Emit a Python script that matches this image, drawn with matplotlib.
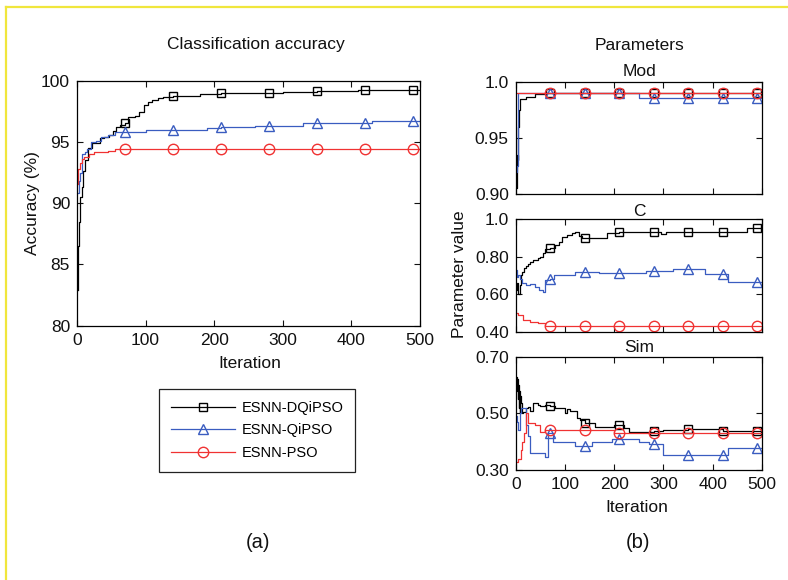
import matplotlib
matplotlib.use("Agg")
import matplotlib.pyplot as plt
from matplotlib.lines import Line2D

plt.rcParams['font.family'] = ['Liberation Sans', 'DejaVu Sans']

# ---------------- data ----------------
SERIES_NAMES = ["ESNN-DQiPSO", "ESNN-QiPSO", "ESNN-PSO"]
MARK_ITERS = [70, 140, 210, 280, 350, 420, 490]

ACC_DQ_X = [1, 2, 3, 5, 7, 9, 12, 16, 22, 33, 40, 47, 52, 57, 62, 70, 75, 84, 91, 98, 104, 110, 118, 125,
            140, 180, 210, 280, 300, 350, 410, 420, 490, 500]
ACC_DQ_Y = [82.9, 86.5, 88.5, 90.5, 91.3, 92.6, 93.5, 94.5, 94.9, 95.3, 95.4, 95.6, 95.9, 96.2, 96.4, 96.55,
            97.05, 97.1, 97.45, 98.0, 98.3, 98.45, 98.55, 98.7, 98.78, 98.9, 99.02, 99.02, 99.1, 99.16,
            99.25, 99.27, 99.27, 99.27]
ACC_QI_X = [1, 3, 5, 8, 12, 15, 20, 28, 35, 45, 55, 70, 100, 140, 190, 210, 260, 280, 330, 350, 420, 430,
            490, 500]
ACC_QI_Y = [90.8, 91.8, 92.5, 94.0, 94.2, 94.4, 95.0, 95.1, 95.4, 95.6, 95.85, 95.85, 95.95, 96.0, 96.15,
            96.2, 96.3, 96.3, 96.55, 96.57, 96.57, 96.7, 96.7, 96.7]
ACC_PSO_X = [1, 2, 4, 7, 10, 18, 25, 45, 55, 70, 140, 210, 280, 350, 420, 490, 500]
ACC_PSO_Y = [91.6, 92.8, 93.3, 93.6, 93.8, 94.0, 94.2, 94.25, 94.45, 94.45, 94.45, 94.45, 94.45, 94.45,
             94.45, 94.45, 94.45]

MOD_DQ_X = [1, 2, 3, 4, 5, 6, 8, 20, 40, 60, 70, 140, 210, 280, 350, 420, 490, 500]
MOD_DQ_Y = [0.905, 0.92, 0.935, 0.93, 0.96, 0.975, 0.985, 0.9867, 0.9888, 0.99, 0.99, 0.99, 0.99, 0.99,
            0.99, 0.99, 0.99, 0.99]
MOD_QI_X = [1, 3, 4, 5, 70, 140, 210, 250, 280, 350, 420, 490, 500]
MOD_QI_Y = [0.92, 0.925, 0.95, 0.99, 0.99, 0.99, 0.99, 0.9858, 0.9858, 0.9858, 0.9858, 0.9858, 0.9858]
MOD_PSO_X = [1, 70, 140, 210, 280, 350, 420, 490, 500]
MOD_PSO_Y = [0.99, 0.99, 0.99, 0.99, 0.99, 0.99, 0.99, 0.99, 0.99]

C_DQ_X = [1, 3, 5, 8, 10, 13, 16, 20, 25, 30, 35, 40, 45, 50, 55, 60, 70, 80, 88, 95, 105, 115, 120, 128,
          135, 140, 185, 210, 280, 295, 305, 350, 420, 470, 490, 500]
C_DQ_Y = [0.62, 0.66, 0.60, 0.65, 0.70, 0.72, 0.74, 0.75, 0.76, 0.77, 0.78, 0.78, 0.79, 0.80, 0.82, 0.84,
          0.844, 0.86, 0.88, 0.905, 0.915, 0.925, 0.932, 0.91, 0.897, 0.897, 0.924, 0.929, 0.929, 0.922,
          0.929, 0.929, 0.929, 0.954, 0.954, 0.954]
C_QI_X = [1, 3, 5, 8, 12, 20, 30, 40, 48, 55, 60, 70, 78, 120, 140, 170, 210, 265, 280, 320, 350, 385, 420,
          430, 490, 500]
C_QI_Y = [0.728, 0.69, 0.70, 0.68, 0.66, 0.65, 0.655, 0.64, 0.62, 0.61, 0.675, 0.68, 0.702, 0.72, 0.72,
          0.711, 0.711, 0.725, 0.725, 0.732, 0.732, 0.707, 0.707, 0.666, 0.666, 0.666]
C_PSO_X = [1, 5, 15, 30, 45, 60, 70, 140, 210, 280, 350, 420, 490, 500]
C_PSO_Y = [0.50, 0.489, 0.462, 0.453, 0.444, 0.43, 0.43, 0.43, 0.43, 0.43, 0.43, 0.43, 0.43, 0.43]

SIM_DQ_X = [1, 2, 3, 4, 5, 6, 7, 8, 9, 10, 12, 15, 20, 25, 30, 35, 45, 50, 60, 70, 80, 90, 100, 105, 110,
            125, 130, 140, 160, 200, 210, 220, 230, 280, 300, 350, 400, 420, 490, 500]
SIM_DQ_Y = [0.63, 0.58, 0.62, 0.55, 0.60, 0.52, 0.58, 0.50, 0.56, 0.535, 0.50, 0.506, 0.52, 0.524, 0.51,
            0.535, 0.53, 0.525, 0.53, 0.526, 0.52, 0.518, 0.50, 0.514, 0.51, 0.483, 0.475, 0.467, 0.453,
            0.46, 0.459, 0.45, 0.435, 0.438, 0.441, 0.443, 0.443, 0.438, 0.438, 0.438]
SIM_QI_X = [1, 3, 5, 8, 10, 15, 20, 25, 30, 60, 65, 70, 75, 120, 140, 155, 195, 210, 250, 270, 280, 300,
            350, 420, 430, 490, 500]
SIM_QI_Y = [0.49, 0.47, 0.44, 0.50, 0.52, 0.52, 0.46, 0.42, 0.361, 0.347, 0.43, 0.43, 0.40, 0.385, 0.385,
            0.40, 0.408, 0.408, 0.40, 0.392, 0.392, 0.353, 0.353, 0.353, 0.377, 0.377, 0.377]
SIM_PSO_X = [1, 5, 10, 13, 16, 20, 25, 40, 50, 60, 70, 140, 200, 210, 280, 350, 420, 490, 500]
SIM_PSO_Y = [0.33, 0.34, 0.37, 0.40, 0.43, 0.50, 0.465, 0.459, 0.435, 0.441, 0.441, 0.441, 0.43, 0.43,
             0.43, 0.43, 0.43, 0.43, 0.43]

X_TICKS = [0, 100, 200, 300, 400, 500]
ACC_TICKS = [80, 85, 90, 95, 100]
MOD_TICKS = [0.90, 0.95, 1.0]
MOD_TICKLABELS = ["0.90", "0.95", "1.0"]
C_TICKS = [0.40, 0.60, 0.80, 1.0]
C_TICKLABELS = ["0.40", "0.60", "0.80", "1.0"]
SIM_TICKS = [0.30, 0.50, 0.70]
SIM_TICKLABELS = ["0.30", "0.50", "0.70"]

# ---------------- style ----------------
COLORS = ["#000000", "#3a5cc0", "#f03232"]
MARKERS = ["s", "^", "o"]
MSIZES = [5.5, 7, 7.5]
FS = 12.5

W, H = 788, 580
fig = plt.figure(figsize=(W / 100, H / 100), dpi=100)
fig.patch.set_facecolor("white")


def rect(l, t, r, b):
    return [l / W, 1 - b / H, (r - l) / W, (b - t) / H]


def style_axes(ax):
    ax.tick_params(direction="in", top=True, right=True, length=4, width=0.8,
                   labelsize=FS, pad=5, colors="#111111")
    for s in ax.spines.values():
        s.set_linewidth(0.9)


def draw(ax, xs, ys, k):
    idx = [i for i, x in enumerate(xs) if x in MARK_ITERS]
    ax.plot(xs, ys, drawstyle="steps-post", color=COLORS[k], lw=0.9,
            marker=MARKERS[k], markevery=idx, ms=MSIZES[k], mfc="none",
            mec=COLORS[k], mew=1.0, label=SERIES_NAMES[k])


# Left: accuracy
axA = fig.add_axes(rect(77, 80.7, 420, 325.7))
for k, (xs, ys) in enumerate([(ACC_DQ_X, ACC_DQ_Y), (ACC_QI_X, ACC_QI_Y), (ACC_PSO_X, ACC_PSO_Y)]):
    draw(axA, xs, ys, k)
axA.set_xlim(0, 500)
axA.set_ylim(80, 100)
axA.set_xticks(X_TICKS)
axA.set_yticks(ACC_TICKS)
style_axes(axA)

# Right: parameter panels
axM = fig.add_axes(rect(515.7, 81.7, 762, 194))
axC = fig.add_axes(rect(515.7, 219, 762, 331.7))
axS = fig.add_axes(rect(515.7, 356.7, 762, 470))
panels = [
    (axM, [(MOD_DQ_X, MOD_DQ_Y), (MOD_QI_X, MOD_QI_Y), (MOD_PSO_X, MOD_PSO_Y)], (0.90, 1.0), MOD_TICKS, MOD_TICKLABELS),
    (axC, [(C_DQ_X, C_DQ_Y), (C_QI_X, C_QI_Y), (C_PSO_X, C_PSO_Y)], (0.40, 1.0), C_TICKS, C_TICKLABELS),
    (axS, [(SIM_DQ_X, SIM_DQ_Y), (SIM_QI_X, SIM_QI_Y), (SIM_PSO_X, SIM_PSO_Y)], (0.30, 0.70), SIM_TICKS, SIM_TICKLABELS),
]
for ax, series, ylim, ticks, labels in panels:
    for k, (xs, ys) in enumerate(series):
        draw(ax, xs, ys, k)
    ax.set_xlim(0, 500)
    ax.set_ylim(*ylim)
    ax.set_xticks(X_TICKS)
    ax.set_yticks(ticks)
    ax.set_yticklabels(labels)
    style_axes(ax)
axM.tick_params(labelbottom=False)
axC.tick_params(labelbottom=False)


def ftext(x, y, s, **kw):
    fig.text(x / W, 1 - y / H, s, ha="center", va="center", color="#111111", **kw)


ftext(256, 45, "Classification accuracy", fontsize=FS)
ftext(640, 45, "Parameters", fontsize=FS)
ftext(639, 72, "Mod", fontsize=FS)
ftext(639, 211, "C", fontsize=FS)
ftext(639, 348, "Sim", fontsize=FS)
ftext(33, 203, "Accuracy (%)", fontsize=FS, rotation=90)
ftext(250, 364, "Iteration", fontsize=FS)
ftext(637, 508, "Iteration", fontsize=FS)
ftext(459, 274, "Parameter value", fontsize=FS, rotation=90)
ftext(258, 543, "(a)", fontsize=14.5)
ftext(638, 543, "(b)", fontsize=14.5)

# Legend
handles, labs = axA.get_legend_handles_labels()
leg = fig.legend(handles, labs, loc="upper left", bbox_to_anchor=(159 / W, 1 - 389 / H),
                 fontsize=10.5, frameon=True, fancybox=False, framealpha=1,
                 edgecolor="#222222", handlelength=4.4, handletextpad=0.45,
                 borderpad=0.8, labelspacing=0.6, numpoints=1, borderaxespad=0)
leg.get_frame().set_linewidth(0.9)

# Yellow border lines
yc = "#f0e63c"
fig.add_artist(Line2D([6 / W, 6 / W], [1 - 7 / H, 0], transform=fig.transFigure, color=yc, lw=1.6))
fig.add_artist(Line2D([6 / W, 1], [1 - 7 / H, 1 - 7 / H], transform=fig.transFigure, color=yc, lw=1.6))

fig.savefig("out.png", dpi=100, facecolor="white")
